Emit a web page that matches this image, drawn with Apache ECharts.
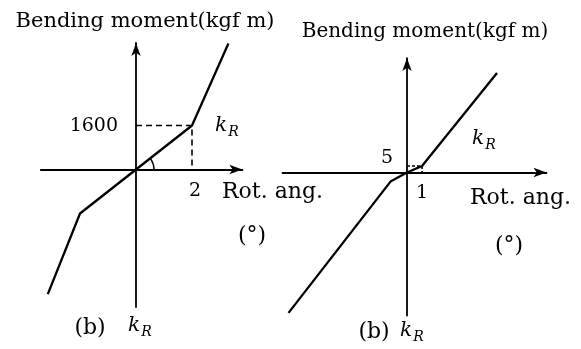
<!DOCTYPE html>
<html>
<head>
<meta charset="utf-8">
<script src="https://cdn.jsdelivr.net/npm/echarts@6/dist/echarts.min.js"></script>
<style>
  html, body { margin: 0; padding: 0; background: #fff; }
  #chart { width: 581px; height: 349px; }
</style>
</head>
<body>
<div id="chart"></div>
<script>
// Left diagram: bilinear moment–rotation law, knee at (2°, 1600 kgf·m)
const rotLeft = [-3.15, -2, 0, 2, 3.3];
const momentLeft = [-4530, -1600, 0, 1600, 4580];
const kneeLeft = [2, 1600];

// Right diagram: knee at (1°, 5 kgf·m)
const rotRight = [-7.9, -1.1, 0, 1, 6];
const momentRight = [-108, -7, 0, 5, 76.5];
const kneeRight = [1, 5];

// Texts
const titleText = 'Bending moment(kgf m)';
const xName = 'Rot. ang.';
const unitName = '(°)';
const caseName = '(b)';
const stiffK = 'k';
const stiffSub = 'R';

const INK = '#000';
const SERIF = '"DejaVu Serif", "Liberation Serif", serif';

function pairs(xs, ys) { return xs.map((x, i) => [x, ys[i]]); }

function axisLine() {
  return {
    show: true, onZero: true,
    symbol: ['none', 'arrow'], symbolSize: [7, 13],
    lineStyle: { color: INK, width: 1.8 }
  };
}
function valueAxis(gridIndex, min, max) {
  return {
    type: 'value', gridIndex, min, max,
    axisLine: axisLine(),
    axisTick: { show: false }, axisLabel: { show: false }, splitLine: { show: false }
  };
}

function curve(idx, data) {
  return {
    type: 'line', xAxisIndex: idx, yAxisIndex: idx, data,
    symbol: 'none', silent: true,
    lineStyle: { color: INK, width: 2.3 }
  };
}
function guide(idx, knee, dash) {
  return {
    type: 'line', xAxisIndex: idx, yAxisIndex: idx,
    data: [[0, knee[1]], knee, [knee[0], 0]],
    symbol: 'none', silent: true,
    lineStyle: { color: INK, width: 1.6, type: dash }
  };
}
// value labels of the knee, written next to its projections on both axes
function kneeTicks(idx, knee, yGap, yShift, xGap, xShift) {
  return {
    type: 'custom', xAxisIndex: idx, yAxisIndex: idx, silent: true,
    data: [knee],
    renderItem: (params, api) => {
      const kx = api.value(0), ky = api.value(1);
      const onY = api.coord([0, ky]);
      const onX = api.coord([kx, 0]);
      const font = '19px ' + SERIF;
      return {
        type: 'group',
        children: [
          { type: 'text', x: onY[0] - yGap, y: onY[1] + yShift,
            style: { text: String(ky), font, fill: INK, align: 'right', verticalAlign: 'middle' } },
          { type: 'text', x: onX[0] + xShift, y: onX[1] + xGap,
            style: { text: String(kx), font, fill: INK, align: 'center', verticalAlign: 'middle' } }
        ]
      };
    }
  };
}

function txt(x, y, text, size, opts) {
  const o = opts || {};
  return {
    type: 'text', x, y, silent: true,
    style: {
      text, fill: INK,
      font: (o.italic ? 'italic ' : '') + size + 'px ' + SERIF,
      textAlign: o.align || 'center', align: o.align || 'center',
      textVerticalAlign: 'middle', verticalAlign: 'middle'
    }
  };
}
function kR(x, y, size) {
  return [
    txt(x, y, stiffK, size, { italic: true, align: 'left' }),
    txt(x + size * 0.66, y + size * 0.3, stiffSub, Math.round(size * 0.72), { italic: true, align: 'left' })
  ];
}

const chart = echarts.init(document.getElementById('chart'), null, { renderer: 'canvas' });

chart.setOption({
  animation: false,
  backgroundColor: '#fff',
  grid: [
    { left: 40.8, top: 43, width: 201.6, height: 264 },
    { left: 282.5, top: 58.1, width: 264, height: 257.4 }
  ],
  xAxis: [valueAxis(0, -3.4, 3.8), valueAxis(1, -8.3, 9.3)],
  yAxis: [valueAxis(0, -5000, 4600), valueAxis(1, -110, 88)],
  series: [
    curve(0, pairs(rotLeft, momentLeft)),
    guide(0, kneeLeft, [6, 4]),
    kneeTicks(0, kneeLeft, 18, 1, 22, 3),
    {
      // angle mark between the initial branch and the rotation axis
      type: 'custom', xAxisIndex: 0, yAxisIndex: 0, silent: true,
      data: [[0, 0, kneeLeft[0], kneeLeft[1]]],
      renderItem: (params, api) => {
        const o = api.coord([api.value(0), api.value(1)]);
        const k = api.coord([api.value(2), api.value(3)]);
        const ang = Math.atan2(k[1] - o[1], k[0] - o[0]);
        return {
          type: 'arc',
          shape: { cx: o[0], cy: o[1], r: 18, startAngle: ang, endAngle: 0, clockwise: true },
          style: { stroke: INK, fill: null, lineWidth: 1.6 }
        };
      }
    },
    curve(1, pairs(rotRight, momentRight)),
    guide(1, kneeRight, [3, 2]),
    kneeTicks(1, kneeRight, 14, -8, 21, 0)
  ],
  graphic: [
    txt(145, 22, titleText, 21),
    txt(425, 32, titleText, 20),
    txt(222, 192, xName, 22, { align: 'left' }),
    txt(470, 198, xName, 22, { align: 'left' }),
    txt(252, 236, unitName, 22),
    txt(509, 246, unitName, 22),
    txt(90, 328, caseName, 22),
    txt(374, 332, caseName, 22),
    ...kR(215, 126, 20),
    ...kR(472, 139, 20),
    ...kR(128, 326, 20),
    ...kR(400, 331, 20)
  ]
});
</script>
</body>
</html>
